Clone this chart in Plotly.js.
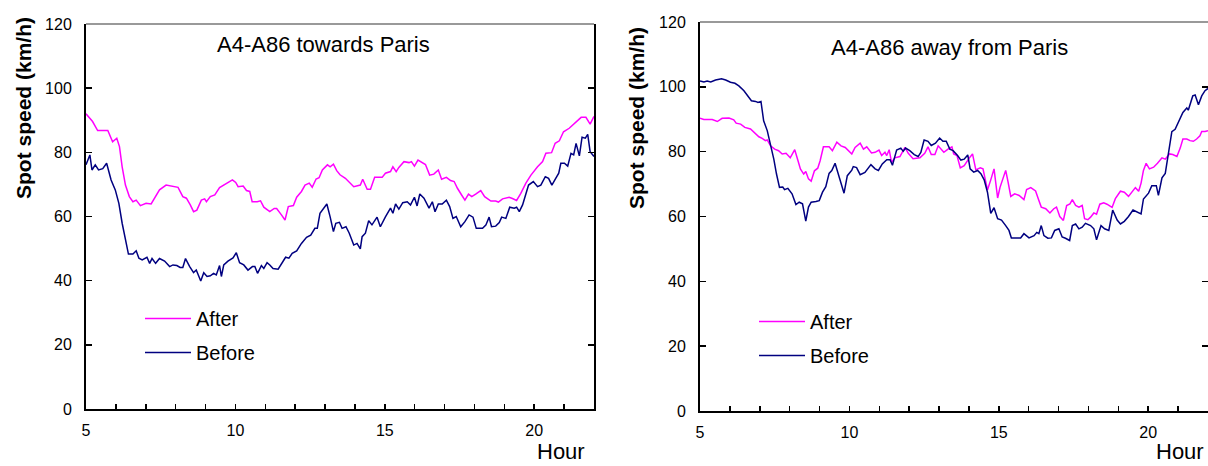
<!DOCTYPE html>
<html>
<head>
<meta charset="utf-8">
<script src="https://cdn.plot.ly/plotly-3.0.1.min.js"></script>
<style>html,body{margin:0;padding:0;background:#fff;}#chart{width:1208px;height:466px;}</style>
</head>
<body>
<div id="chart"></div>
<script>
// ---- Data (hour of day, spot speed km/h) ----
const towardsAfterHours = [5.00,5.22,5.39,5.73,5.89,6.03,6.12,6.21,6.32,6.45,6.57,6.68,6.82,7.01,7.18,7.29,7.46,7.68,7.93,8.08,8.24,8.36,8.49,8.60,8.71,8.86,8.97,9.03,9.16,9.31,9.47,9.61,9.75,9.90,10.01,10.09,10.26,10.37,10.48,10.56,10.73,10.84,10.95,11.15,11.30,11.38,11.54,11.66,11.77,11.94,12.05,12.21,12.33,12.47,12.57,12.70,12.80,12.91,13.08,13.17,13.28,13.39,13.50,13.68,13.96,14.18,14.26,14.41,14.52,14.66,14.91,15.02,15.19,15.27,15.38,15.47,15.64,15.81,15.89,15.99,16.11,16.25,16.36,16.50,16.64,16.79,16.90,17.06,17.20,17.32,17.43,17.57,17.68,17.80,17.91,18.04,18.21,18.34,18.55,18.71,18.80,18.94,19.16,19.27,19.41,19.55,19.72,19.89,20.11,20.28,20.39,20.58,20.70,20.84,20.98,21.17,21.42,21.57,21.73,21.87,22.00];
const towardsAfterSpeed = [92.0,89.6,86.8,86.8,83.3,84.4,81.8,75.5,69.8,66.2,64.6,65.1,63.4,64.1,63.9,65.7,68.3,69.8,69.3,69.1,66.2,65.7,63.6,61.5,62.0,65.1,65.5,64.6,66.2,66.7,69.0,69.8,70.4,71.4,70.6,69.3,69.5,68.1,67.8,64.6,64.6,64.9,62.9,61.5,62.5,62.5,60.5,58.9,63.1,63.4,66.0,67.8,69.8,70.4,69.1,71.7,72.1,74.5,76.1,75.5,76.3,74.3,73.0,71.9,69.3,69.8,71.6,68.5,68.5,72.2,72.2,73.5,74.0,75.5,74.0,75.3,77.1,76.8,77.1,75.7,77.6,76.9,76.2,72.9,73.2,74.5,71.6,72.2,71.2,70.9,68.8,66.7,65.1,67.0,66.2,67.0,68.1,66.2,64.8,64.8,64.5,65.5,66.0,65.6,65.0,67.2,70.4,72.9,75.5,77.1,79.7,79.9,82.8,83.6,86.4,87.5,89.6,90.9,90.9,88.8,91.2];

const towardsBeforeHours = [5.00,5.06,5.13,5.20,5.31,5.42,5.56,5.69,5.84,5.98,6.10,6.21,6.32,6.42,6.57,6.68,6.77,6.88,7.04,7.13,7.21,7.33,7.46,7.63,7.80,7.91,8.04,8.15,8.24,8.33,8.47,8.60,8.69,8.84,8.94,9.05,9.16,9.27,9.36,9.47,9.53,9.61,9.75,9.92,10.03,10.14,10.28,10.42,10.57,10.65,10.74,10.87,10.95,11.06,11.15,11.26,11.43,11.54,11.68,11.79,11.90,12.05,12.21,12.38,12.52,12.66,12.74,12.83,12.95,13.06,13.17,13.28,13.36,13.48,13.57,13.70,13.81,13.96,14.07,14.18,14.24,14.35,14.46,14.57,14.74,14.85,15.02,15.19,15.27,15.36,15.47,15.60,15.75,15.86,15.99,16.08,16.17,16.31,16.48,16.59,16.68,16.79,16.92,17.06,17.17,17.28,17.39,17.54,17.68,17.82,17.95,18.06,18.27,18.38,18.49,18.57,18.71,18.83,18.91,19.05,19.18,19.33,19.41,19.50,19.61,19.72,19.81,19.97,20.11,20.22,20.37,20.48,20.59,20.70,20.82,20.89,21.01,21.12,21.23,21.32,21.40,21.51,21.60,21.71,21.79,21.87,22.00];
const towardsBeforeSpeed = [76.1,77.6,79.2,74.5,76.1,74.5,74.9,76.6,71.4,68.3,64.1,57.9,52.7,48.3,48.3,49.3,47.0,46.5,47.3,45.4,46.9,45.4,46.9,46.1,44.4,44.9,44.7,44.1,44.1,46.9,44.4,42.5,43.3,39.9,42.5,41.3,41.5,42.3,41.8,44.7,41.3,44.9,46.1,47.1,48.7,45.6,44.9,43.3,44.4,44.4,42.3,44.7,43.8,45.6,44.9,43.8,43.6,45.4,47.3,47.0,48.5,49.3,51.6,53.5,54.2,56.3,56.3,61.0,62.6,63.9,59.9,55.3,57.9,58.2,56.3,56.8,54.8,51.1,51.6,49.9,53.7,54.8,58.7,57.4,59.8,56.8,59.9,62.6,61.0,63.9,62.3,64.3,64.6,63.6,66.0,63.3,67.0,65.7,62.6,64.6,61.5,63.9,63.9,65.1,63.1,59.4,60.0,56.8,58.4,60.5,59.8,56.3,56.3,57.3,59.8,56.8,57.0,58.1,59.8,59.4,62.9,62.6,62.9,61.5,63.6,67.2,69.8,70.9,69.3,69.8,72.4,71.9,69.8,71.6,73.5,76.6,76.6,75.7,79.7,79.2,82.8,78.9,84.7,84.4,85.6,80.2,78.7];

const awayAfterHours = [5.00,5.13,5.41,5.58,5.74,5.97,6.13,6.21,6.36,6.50,6.69,6.86,6.97,7.08,7.19,7.25,7.36,7.50,7.63,7.75,7.88,8.02,8.17,8.28,8.36,8.47,8.54,8.63,8.72,8.83,8.94,9.02,9.13,9.32,9.43,9.58,9.72,9.86,10.08,10.19,10.36,10.47,10.58,10.74,10.86,10.99,11.08,11.19,11.25,11.33,11.41,11.52,11.69,11.86,11.97,12.13,12.36,12.52,12.63,12.74,12.86,12.97,13.16,13.30,13.43,13.49,13.60,13.71,13.84,14.01,14.12,14.23,14.38,14.47,14.62,14.73,14.84,14.96,15.04,15.16,15.23,15.31,15.40,15.53,15.68,15.84,15.93,16.07,16.23,16.32,16.42,16.57,16.71,16.84,16.93,17.04,17.16,17.27,17.38,17.46,17.57,17.68,17.79,17.87,17.98,18.07,18.18,18.27,18.38,18.51,18.62,18.79,18.90,19.07,19.20,19.34,19.46,19.57,19.68,19.76,19.84,19.93,20.04,20.18,20.31,20.46,20.57,20.71,20.82,20.96,21.07,21.16,21.29,21.40,21.51,21.62,21.73,21.79,21.90,22.00];
const awayAfterSpeed = [90.3,89.9,89.9,89.3,90.3,90.4,89.8,88.8,88.5,87.5,87.0,85.6,84.6,84.1,83.4,83.6,81.8,80.8,80.3,79.3,79.5,78.1,80.6,77.2,74.7,73.1,73.9,71.6,70.9,74.1,74.9,77.2,81.5,81.5,80.3,82.9,81.8,81.3,79.3,81.3,82.6,80.8,81.5,79.6,79.8,80.5,78.8,79.8,78.8,80.6,76.7,78.1,78.5,81.3,79.5,77.8,78.1,79.5,81.5,79.1,79.1,81.8,79.8,80.8,81.5,79.3,78.8,75.0,75.7,78.0,79.3,74.4,75.0,74.7,68.2,71.3,74.7,65.7,69.0,72.3,74.2,70.6,66.2,67.0,66.5,65.2,68.3,68.9,67.9,65.5,62.9,62.4,61.1,62.4,62.9,60.0,58.8,63.4,63.9,65.2,63.4,62.9,63.4,59.3,59.0,59.8,61.1,60.7,63.8,64.2,63.8,62.8,65.5,67.8,67.5,66.2,67.8,68.9,67.8,70.3,74.2,76.4,74.7,75.2,76.4,78.1,77.7,79.3,79.1,78.5,81.1,83.9,83.9,83.4,83.2,83.9,84.9,86.2,86.2,86.5];

const awayBeforeHours = [5.00,5.13,5.24,5.36,5.52,5.72,5.86,6.02,6.17,6.30,6.47,6.61,6.72,6.86,6.94,7.04,7.13,7.25,7.36,7.47,7.56,7.66,7.77,7.83,7.94,8.08,8.21,8.32,8.43,8.54,8.63,8.72,8.88,8.99,9.10,9.21,9.32,9.41,9.52,9.63,9.72,9.82,9.93,10.08,10.13,10.24,10.36,10.52,10.72,10.86,10.97,11.10,11.25,11.36,11.44,11.58,11.72,11.80,11.88,12.02,12.17,12.30,12.39,12.50,12.63,12.74,12.88,13.02,13.13,13.24,13.36,13.47,13.62,13.73,13.84,13.96,14.04,14.16,14.29,14.40,14.51,14.62,14.73,14.84,14.96,15.09,15.23,15.34,15.42,15.57,15.73,15.84,16.01,16.18,16.27,16.34,16.42,16.51,16.64,16.76,16.87,17.01,17.12,17.23,17.37,17.46,17.57,17.68,17.79,17.90,18.07,18.18,18.27,18.42,18.54,18.68,18.81,18.96,19.07,19.20,19.34,19.49,19.62,19.76,19.84,20.01,20.12,20.27,20.34,20.46,20.57,20.68,20.79,20.90,21.04,21.16,21.29,21.34,21.49,21.57,21.68,21.79,21.90,22.00];
const awayBeforeSpeed = [101.8,101.5,101.8,101.5,102.1,102.5,102.1,101.4,101.1,100.3,98.8,97.2,95.7,95.5,95.2,95.5,89.5,86.5,82.4,77.7,73.1,69.0,69.1,68.3,68.7,67.0,63.7,64.4,63.9,58.6,62.9,64.4,64.6,64.9,67.5,69.2,73.3,74.2,76.4,72.9,70.6,67.2,72.6,74.3,75.4,75.1,72.9,73.6,76.0,74.7,74.2,76.2,77.5,77.5,75.8,80.5,81.1,80.1,81.1,80.3,79.1,78.5,79.8,83.6,83.2,81.9,82.6,84.2,83.2,83.2,80.8,80.3,78.8,77.4,77.7,79.0,74.7,73.7,74.2,73.2,71.3,67.5,61.0,62.7,59.3,58.9,57.2,55.7,53.4,53.4,53.4,54.7,53.4,54.1,55.1,54.7,57.2,54.1,53.3,53.4,55.7,56.2,53.7,53.3,52.6,57.2,57.7,56.2,56.7,57.9,57.2,56.2,52.8,57.2,56.2,55.7,62.0,58.9,57.7,58.5,60.0,62.0,61.3,60.8,65.4,67.2,69.5,69.5,66.5,71.9,73.3,79.3,86.2,86.9,89.7,92.1,93.5,92.8,97.2,97.5,94.5,97.2,98.8,99.5];

const hourTicks = [5,6,7,8,9,10,11,12,13,14,15,16,17,18,19,20,21,22];
const hourTickText = ['5','','','','','10','','','','','15','','','','','20','',''];
const speedTicks = [0,20,40,60,80,100,120];
const panelTitles = ['A4-A86 towards Paris', 'A4-A86 away from Paris'];
const seriesNames = ['After', 'Before'];
const yTitle = 'Spot speed (km/h)';
const xTitle = 'Hour';

// ---- Styling ----
const W = 1208, H = 466;
const FONT = 'Liberation Sans, Arial, sans-serif';
const MAGENTA = '#ff00ff', NAVY = '#000080';
const px = v => v / W, py = v => 1 - v / H;

const traces = [
  {x: towardsAfterHours, y: towardsAfterSpeed, name: seriesNames[0], xaxis: 'x', yaxis: 'y', legend: 'legend', legendgroup: 'a1'},
  {x: towardsBeforeHours, y: towardsBeforeSpeed, name: seriesNames[1], xaxis: 'x', yaxis: 'y', legend: 'legend', legendgroup: 'b1'},
  {x: awayAfterHours, y: awayAfterSpeed, name: seriesNames[0], xaxis: 'x2', yaxis: 'y2', legend: 'legend2', legendgroup: 'a2'},
  {x: awayBeforeHours, y: awayBeforeSpeed, name: seriesNames[1], xaxis: 'x2', yaxis: 'y2', legend: 'legend2', legendgroup: 'b2'}
].map((t, i) => Object.assign(t, {
  type: 'scatter', mode: 'lines', hoverinfo: 'skip',
  line: {color: i % 2 === 0 ? MAGENTA : NAVY, width: 1.5}
}));

function xAxis(domain, anchor) {
  return {domain, anchor, range: [5, 22], tickmode: 'array', tickvals: hourTicks, ticktext: hourTickText,
    ticks: 'inside', ticklen: 5, tickwidth: 1.5, tickcolor: '#000', showline: true, linecolor: '#000', linewidth: 2,
    showgrid: false, zeroline: false, mirror: false, ticklabelstandoff: 6,
    tickfont: {family: FONT, size: 16, color: '#000'}, fixedrange: true};
}
function yAxis(domain, anchor) {
  return {domain, anchor, range: [0, 120], tickmode: 'array', tickvals: speedTicks,
    ticks: 'inside', ticklen: 6, tickwidth: 1.5, tickcolor: '#000', showline: true, linecolor: '#000', linewidth: 2,
    showgrid: false, zeroline: false, mirror: 'ticks', ticklabelstandoff: 9,
    tickfont: {family: FONT, size: 16, color: '#000'}, fixedrange: true};
}
function legendCfg(xpix, ypix) {
  return {x: px(xpix), y: py(ypix), xanchor: 'left', yanchor: 'top', bgcolor: 'rgba(0,0,0,0)', borderwidth: 0,
    font: {family: FONT, size: 20, color: '#000'}, itemwidth: 46, tracegroupgap: 5, traceorder: 'grouped'};
}
function ann(text, x, y, opts) {
  return Object.assign({text, x: px(x), y: py(y), xref: 'paper', yref: 'paper', showarrow: false,
    xanchor: 'center', yanchor: 'middle', font: {family: FONT, size: 22, color: '#000'}}, opts || {});
}

const layout = {
  width: W, height: H, margin: {l: 0, r: 0, t: 0, b: 0},
  paper_bgcolor: '#fff', plot_bgcolor: '#fff', showlegend: true,
  xaxis: xAxis([px(86), px(594)], 'y'),
  yaxis: yAxis([py(409), py(24)], 'x'),
  xaxis2: xAxis([px(700), 1], 'y2'),
  yaxis2: yAxis([py(411), py(22)], 'x2'),
  legend: legendCfg(140, 299),
  legend2: legendCfg(754, 302),
  shapes: [
    {type: 'line', xref: 'x domain', yref: 'y domain', x0: 0, x1: 1, y0: 1, y1: 1, line: {color: '#777', width: 1.5}},
    {type: 'line', xref: 'x2 domain', yref: 'y2 domain', x0: 0, x1: 1, y0: 1, y1: 1, line: {color: '#777', width: 1.5}}
  ],
  annotations: [
    ann(panelTitles[0], 323, 45),
    ann(panelTitles[1], 949, 47),
    ann('<b>' + yTitle + '</b>', 23, 108, {textangle: -90, font: {family: FONT, size: 21, color: '#000'}}),
    ann('<b>' + yTitle + '</b>', 636, 118, {textangle: -90, font: {family: FONT, size: 21, color: '#000'}}),
    ann(xTitle, 561, 451),
    ann(xTitle, 1180, 451)
  ]
};

Plotly.newPlot('chart', traces, layout, {displayModeBar: false, staticPlot: true});
</script>
</body>
</html>
